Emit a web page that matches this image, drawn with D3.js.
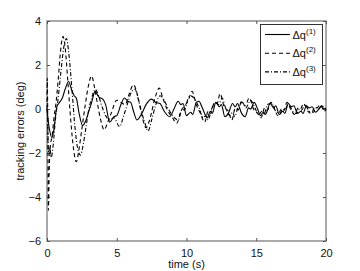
<!DOCTYPE html>
<html>
<head>
<meta charset="utf-8">
<script src="https://cdn.jsdelivr.net/npm/d3@7"></script>
<style>
  body { margin: 0; background: #fff; }
  svg text { font-family: "Liberation Sans", Arial, sans-serif; fill: #111; }
</style>
</head>
<body>
<div id="chart"></div>
<script>
// Tracking errors at the peaks / troughs: [time (s), error (deg)]
var dq1 = [[0,0],[0.1,-0.6],[0.2,-1.0],[0.35,-1.3],[0.5,-0.9],[0.7,0.1],[0.9,0.3],[1.1,0.5],[1.3,0.9],[1.55,1.25],
  [1.75,0.9],[1.95,0.6],[2.1,0.5],[2.3,-0.2],[2.55,-0.75],[2.8,-0.5],[3.0,-0.1],[3.2,0.3],[3.45,0.8],[3.7,0.55],
  [4.0,0.45],[4.2,0.2],[4.5,-0.6],[4.8,-0.35],[5.0,-0.3],[5.3,0.2],[5.55,0.5],[5.8,0.35],[6.0,0.3],[6.2,-0.1],
  [6.45,-0.5],[6.8,-0.2],[7.1,0.2],[7.5,0.45],[7.8,0.3],[8.1,0.25],[8.4,-0.1],[8.8,-0.35],[9.1,0],[9.4,0.35],
  [9.6,0.2],[9.75,0.25],[10.0,-0.3],[10.3,-0.15],[10.45,-0.25],[10.7,0.3],[10.9,0.35],[11.1,0.1],[11.5,-0.4],[11.7,-0.1],
  [11.85,-0.2],[12.1,0.3],[12.35,0.1],[12.5,0.2],[12.75,-0.35],[13.0,-0.2],[13.3,0.25],[13.5,0.1],[13.65,0.25],[13.95,-0.2],
  [14.2,-0.35],[14.45,0.05],[14.6,0],[14.85,0.3],[15.1,0],[15.3,-0.3],[15.5,-0.15],[15.65,-0.25],[16.0,0.25],[16.25,0.05],
  [16.4,0.15],[16.65,-0.25],[16.9,-0.1],[17.05,-0.2],[17.3,0.25],[17.5,0.1],[17.7,0.15],[17.95,-0.2],[18.2,-0.1],[18.35,-0.2],
  [18.6,0.15],[18.8,0.05],[19.0,0.1],[19.25,-0.15],[19.5,0],[19.7,0.15],[19.85,0],[20,0.05]];

var dq2 = [[0,0],[0.02,1.4],[0.06,-1.0],[0.1,-4.6],[0.15,-3.0],[0.25,-1.6],[0.35,-1.3],[0.5,-0.4],[0.65,0.3],[0.8,1.3],
  [0.95,2.5],[1.15,3.3],[1.3,2.8],[1.5,1.2],[1.7,-0.5],[1.9,-1.8],[2.1,-2.4],[2.3,-1.8],[2.5,-0.9],[2.7,0],
  [2.95,1.0],[3.2,1.5],[3.4,1.0],[3.6,0.3],[3.85,-0.5],[4.1,-0.95],[4.35,-0.6],[4.6,-0.2],[5.0,0.4],[5.3,0.3],
  [5.6,0.2],[5.9,0.7],[6.2,1.1],[6.5,0.6],[6.8,-0.3],[7.1,-0.85],[7.4,-0.4],[7.7,0.4],[8.05,0.95],[8.3,0.5],
  [8.6,0],[9.0,-0.4],[9.3,-0.65],[9.6,-0.1],[9.8,0.1],[10.1,0.35],[10.4,0.8],[10.7,0.2],[11.0,-0.2],[11.3,-0.6],
  [11.55,-0.1],[11.75,-0.2],[12.0,0.3],[12.2,0.25],[12.4,0.7],[12.7,0.1],[13.0,-0.1],[13.25,-0.5],[13.5,0.05],[13.7,-0.05],
  [13.95,0.35],[14.2,0.15],[14.5,0.5],[14.8,0],[15.1,-0.2],[15.35,-0.4],[15.6,0.05],[15.8,-0.05],[16.05,0.3],[16.3,0],
  [16.55,-0.3],[16.8,0],[16.95,-0.1],[17.2,0.3],[17.5,-0.05],[17.75,-0.25],[18.0,0.05],[18.15,0],[18.4,0.25],[18.7,-0.1],
  [18.95,-0.2],[19.2,0.1],[19.35,0.05],[19.6,0.2],[19.85,-0.1],[20,-0.05]];

var dq3 = [[0,0],[0.05,-0.5],[0.1,-2.0],[0.2,-1.7],[0.3,-2.2],[0.45,-1.6],[0.6,-0.5],[0.8,0.5],[1.0,1.7],[1.2,2.8],
  [1.4,3.2],[1.55,2.6],[1.8,0.8],[2.0,-0.8],[2.2,-1.8],[2.4,-2.1],[2.6,-1.6],[2.8,-0.8],[3.0,0],[3.2,0.5],
  [3.45,0.9],[3.7,0.6],[3.9,0.2],[4.2,-0.3],[4.5,-0.5],[4.8,-0.4],[5.2,-0.8],[5.5,-0.3],[5.8,0.3],[6.0,0.7],
  [6.3,0.9],[6.6,0.3],[7.0,-0.6],[7.25,-1.0],[7.5,-0.5],[7.8,0.2],[8.1,0.6],[8.4,0.4],[8.7,0],[9.0,-0.3],
  [9.4,-0.5],[9.7,0],[9.85,-0.05],[10.1,0.45],[10.3,0.6],[10.6,0.45],[10.9,0.05],[11.2,-0.4],[11.4,-0.3],[11.55,-0.5],
  [11.8,0],[12.1,0.3],[12.3,0.2],[12.55,0.5],[12.8,0.05],[13.1,-0.3],[13.3,-0.15],[13.45,-0.35],[13.7,0.1],[14.0,0.3],
  [14.25,0.05],[14.6,0.4],[14.9,0.05],[15.2,-0.25],[15.4,-0.1],[15.55,-0.25],[15.8,0.2],[16.1,0.25],[16.35,-0.05],[16.7,-0.2],
  [16.9,0],[17.05,-0.05],[17.3,0.25],[17.6,-0.1],[17.9,-0.2],[18.1,0],[18.25,-0.05],[18.5,0.2],[18.8,-0.1],[19.1,-0.15],
  [19.3,0.05],[19.45,0],[19.7,0.15],[20,-0.05]];

var xTicks = [0, 5, 10, 15, 20];
var yTicks = [-6, -4, -2, 0, 2, 4];
var seriesNames = ["(1)", "(2)", "(3)"];

var margin = { top: 21, right: 34, bottom: 30, left: 47 };
var width = 360 - margin.left - margin.right;
var height = 271 - margin.top - margin.bottom;

var svg = d3.select("#chart")
    .append("svg")
    .attr("width", 360)
    .attr("height", 271)
    .append("g")
    .attr("transform", "translate(" + margin.left + "," + margin.top + ")");

var x = d3.scaleLinear().domain([0, 20]).range([0, width]);
var y = d3.scaleLinear().domain([-6, 4]).range([height, 0]);

// Axes, matlab style: ticks inside, box all round
var axisColor = "#555";
function styleAxis(g) {
    g.select(".domain").remove();
    g.selectAll(".tick line").attr("stroke", axisColor);
    g.selectAll(".tick text").style("font-size", "11px").attr("fill", "#111");
}
svg.append("g")
    .attr("transform", "translate(0," + height + ")")
    .call(d3.axisBottom(x).tickValues(xTicks).tickSizeInner(-3).tickSizeOuter(0).tickPadding(8))
    .call(styleAxis);
svg.append("g")
    .call(d3.axisTop(x).tickValues(xTicks).tickSizeInner(-3).tickSizeOuter(0).tickFormat(""))
    .call(styleAxis);
svg.append("g")
    .call(d3.axisLeft(y).tickValues(yTicks).tickSizeInner(-3).tickSizeOuter(0).tickPadding(6)
        .tickFormat(function (d) { return d < 0 ? "\u2212" + Math.abs(d) : d; }))
    .call(styleAxis);
svg.append("g")
    .attr("transform", "translate(" + width + ",0)")
    .call(d3.axisRight(y).tickValues(yTicks).tickSizeInner(-3).tickSizeOuter(0).tickFormat(""))
    .call(styleAxis);

svg.append("rect")
    .attr("x", 0).attr("y", 0)
    .attr("width", width).attr("height", height)
    .attr("fill", "none")
    .attr("stroke", axisColor)
    .attr("stroke-width", 1);

// Curves
var line = d3.line()
    .x(function (d) { return x(d[0]); })
    .y(function (d) { return y(d[1]); })
    .curve(d3.curveMonotoneX);

var series = [
    { data: dq1, dash: null },
    { data: dq2, dash: "4,3" },
    { data: dq3, dash: "4,2,1,2" }
];

svg.selectAll(".curve")
    .data(series)
    .enter()
    .append("path")
    .attr("class", "curve")
    .attr("d", function (d) { return line(d.data); })
    .attr("fill", "none")
    .attr("stroke", "#000")
    .attr("stroke-width", 1.1)
    .attr("stroke-dasharray", function (d) { return d.dash; });

// Axis labels
svg.append("text")
    .attr("x", width / 2)
    .attr("y", height + 27)
    .attr("text-anchor", "middle")
    .style("font-size", "11px")
    .text("time (s)");

svg.append("text")
    .attr("transform", "translate(-23," + (height / 2) + ") rotate(-90)")
    .attr("text-anchor", "middle")
    .style("font-size", "11px")
    .text("tracking errors (deg)");

// Legend
var legend = svg.append("g")
    .attr("transform", "translate(" + (260.5 - margin.left) + "," + (24.5 - margin.top) + ")");
legend.append("rect")
    .attr("width", 62).attr("height", 60)
    .attr("fill", "#fff")
    .attr("stroke", "#333");

var entry = legend.selectAll(".entry")
    .data(series)
    .enter()
    .append("g")
    .attr("transform", function (d, i) { return "translate(0," + (10 + i * 18.7) + ")"; });
entry.append("line")
    .attr("x1", 4.5).attr("x2", 29.5)
    .attr("stroke", "#000")
    .attr("stroke-width", 1.1)
    .attr("stroke-dasharray", function (d) { return d.dash; });
var label = entry.append("text")
    .attr("x", 32)
    .attr("y", 4)
    .style("font-size", "11px");
label.append("tspan").text("\u0394q");
label.append("tspan")
    .attr("dy", -5)
    .style("font-size", "8px")
    .text(function (d, i) { return seriesNames[i]; });
</script>
</body>
</html>
